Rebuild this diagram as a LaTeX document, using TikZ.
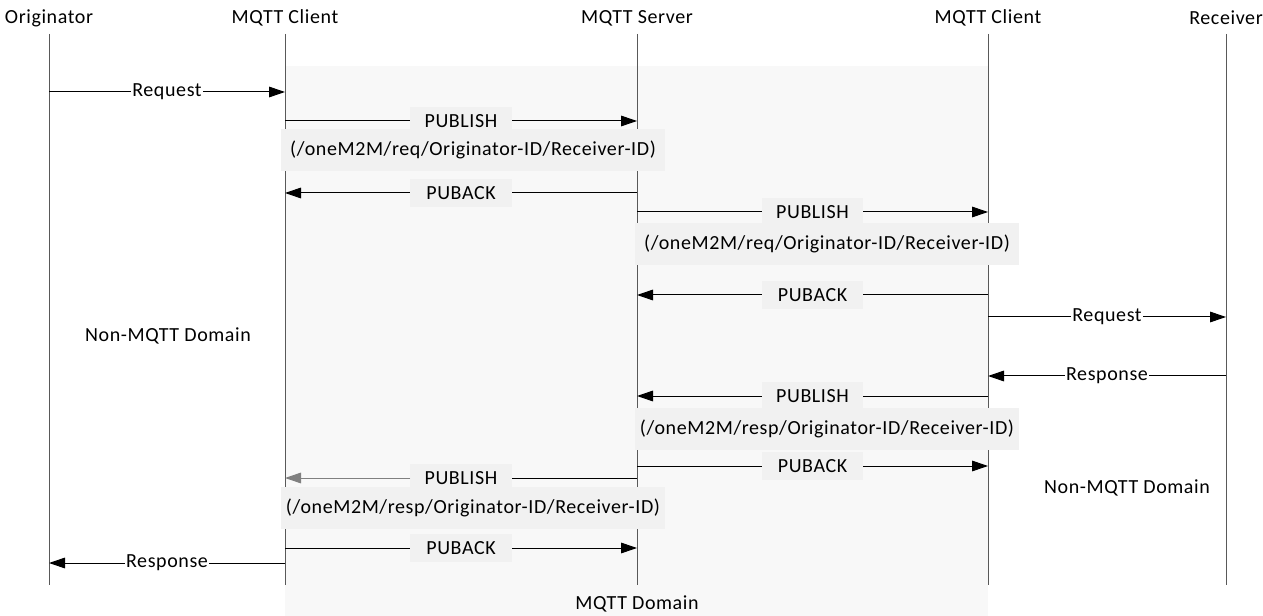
\documentclass[tikz,border=0pt]{standalone}
\usepackage{fontspec}
\setmainfont{Carlito}[LetterSpace=3]
\usetikzlibrary{arrows.meta}
\definecolor{domaingray}{HTML}{F8F8F8}
\definecolor{boxgray}{HTML}{F1F1F1}
\tikzset{
  lifeline/.style={line width=0.75pt, draw=black!65},
  msg/.style={line width=0.75pt, -{Triangle[length=12pt,width=8pt]}},
  head/.style={inner sep=0pt, font=\fontsize{15}{17}\selectfont},
  txt/.style={fill=white, inner sep=1pt, font=\fontsize{15}{17}\selectfont},
  lbl/.style={fill=boxgray, minimum width=76pt, minimum height=21pt, inner sep=0pt, font=\fontsize{15}{17}\selectfont},
  topic/.style={fill=boxgray, minimum width=288pt, minimum height=32pt, inner sep=0pt, font=\fontsize{15}{17}\selectfont},
}
\begin{document}
\begin{tikzpicture}[x=0.75pt, y=-0.75pt]
	\useasboundingbox (0,0) rectangle (1263,616);
	% MQTT domain
	\fill[domaingray] (285,66) rectangle (988,616);
	\node[head] (mqttdom) at (637,604) {MQTT Domain};
	\node[head] (leftdom) at (168,336) {Non-MQTT Domain};
	\node[head] (rightdom) at (1127,488) {Non-MQTT Domain};
	% lifelines
	\foreach \n/\x/\t in {org/49/Originator, cl/285/MQTT Client, sv/637/MQTT Server, cr/988/MQTT Client, rc/1226/Receiver} {
		\node[head] (\n) at (\x,18) {\t};
		\coordinate (\n-top) at (\x,34);
		\coordinate (\n-bot) at (\x,585);
		\draw[lifeline] (\n-top) -- (\n-bot);
		\foreach \m/\y in {1/92,2/121,3/193,4/212,5/295,6/317,7/376,8/396,9/478,10/466,11/548,12/563}
			\coordinate (\n\m) at (\x,\y);
	}
	% topic boxes
	\node[topic] (t1) at (473,150) {(/oneM2M/req/Originator-ID/Receiver-ID)};
	\node[topic] (t2) at (827,244) {(/oneM2M/req/Originator-ID/Receiver-ID)};
	\node[topic] (t3) at (827,429) {(/oneM2M/resp/Originator-ID/Receiver-ID)};
	\node[topic] (t4) at (473,508) {(/oneM2M/resp/Originator-ID/Receiver-ID)};
	% messages
	\draw[msg] (org1) -- node[txt] {Request} (cl1);
	\draw[msg] (cl2) -- node[lbl] {PUBLISH} (sv2);
	\draw[msg] (sv3) -- node[lbl] {PUBACK} (cl3);
	\draw[msg] (sv4) -- node[lbl] {PUBLISH} (cr4);
	\draw[msg] (cr5) -- node[lbl] {PUBACK} (sv5);
	\draw[msg] (cr6) -- node[txt] {Request} (rc6);
	\draw[msg] (rc7) -- node[txt] {Response} (cr7);
	\draw[msg] (cr8) -- node[lbl] {PUBLISH} (sv8);
	\draw[msg] (sv10) -- node[lbl] {PUBACK} (cr10);
	\node[lbl] (p9) at (461,478) {PUBLISH};
	\draw[line width=0.75pt] (sv9) -- (p9.east);
	\draw[msg, draw=black!50, fill=black!50] (p9.west) -- (cl9);
	\draw[msg] (cl11) -- node[lbl] {PUBACK} (sv11);
	\draw[msg] (cl12) -- node[txt] {Response} (org12);
\end{tikzpicture}
\end{document}
